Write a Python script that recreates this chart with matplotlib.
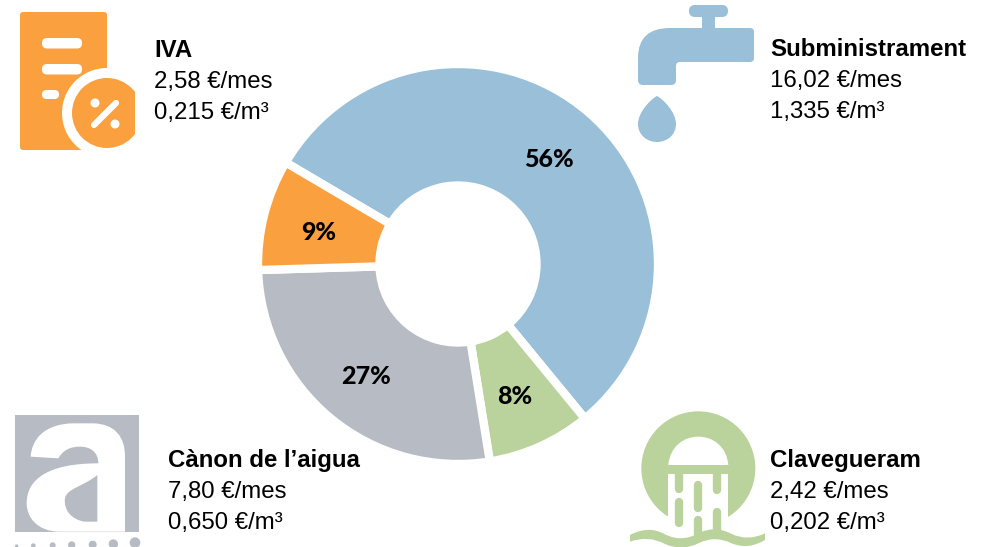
import matplotlib
matplotlib.use("Agg")
import matplotlib.pyplot as plt
from matplotlib.patches import Rectangle, FancyBboxPatch, Circle, PathPatch, Polygon
from matplotlib.path import Path

W, H = 987, 547
categories = ["Subministrament", "Clavegueram", "Cànon de l’aigua", "IVA"]
monthly = [16.02, 2.42, 7.80, 2.58]
monthly_labels = ["16,02 €/mes", "2,42 €/mes", "7,80 €/mes", "2,58 €/mes"]
m3_labels = ["1,335 €/m³", "0,202 €/m³", "0,650 €/m³", "0,215 €/m³"]
colors = ["#9ABFD9", "#BAD29B", "#B6BBC4", "#FBA03E"]
label_x = [770, 770, 168, 154]
label_y = [56, 467, 467, 57]

fig = plt.figure(figsize=(W / 100, H / 100), dpi=100)
ax = fig.add_axes([0, 0, 1, 1])

wedges, _, pct = ax.pie(
    monthly, colors=colors, startangle=149.5, counterclock=False,
    center=(458, H - 264), radius=200, autopct="%.0f%%", pctdistance=0.71,
    wedgeprops=dict(width=121.5, edgecolor="white", linewidth=6),
    textprops=dict(family="Lato", weight="black", fontsize=18, color="black"),
)
for t in pct:
    x0, y0 = t.get_position()
    t.set_position((x0 - 1.5, y0 - 3.5))
ax.set_xlim(0, W)
ax.set_ylim(0, H)
ax.set_aspect("equal")
ax.axis("off")

for name, a, b, x, y in zip(categories, monthly_labels, m3_labels, label_x, label_y):
    ax.text(x, H - y, name, family="Liberation Sans", weight="bold", fontsize=17.3, va="baseline", color="black")
    ax.text(x, H - y - 31, a, family="Liberation Sans", fontsize=17.3, va="baseline", color="black")
    ax.text(x, H - y - 62, b, family="Liberation Sans", fontsize=17.3, va="baseline", color="black")


def P(x, y):
    return (x, H - y)


def rrect(x0, y0, x1, y1, r, c, z=3):
    ax.add_patch(FancyBboxPatch((x0 + r, H - y1 + r), x1 - x0 - 2 * r, y1 - y0 - 2 * r,
                                boxstyle=f"round,pad={r},rounding_size={r}", fc=c, ec="none", zorder=z))


def circ(x, y, r, c, z=3, clip=None):
    p = Circle(P(x, y), r, fc=c, ec="none", zorder=z)
    ax.add_patch(p)
    if clip is not None:
        p.set_clip_path(clip)
    return p


def poly(points, c, z=3):
    ax.add_patch(Polygon([P(*q) for q in points], closed=True, fc=c, ec="none", zorder=z))


def curve(cmds, c, z=3):
    verts, codes = [], []
    for code, pts in cmds:
        for q in pts:
            verts.append(P(*q))
            codes.append(code)
    ax.add_patch(PathPatch(Path(verts, codes), fc=c, ec="none", zorder=z))


M, L, C3, C4, CL = Path.MOVETO, Path.LINETO, Path.CURVE3, Path.CURVE4, Path.CLOSEPOLY

# IVA icon
o = colors[3]
rrect(20, 12, 107, 150, 3, o)
rrect(42, 38, 82, 48.5, 5, "white", 4)
rrect(42, 64, 82, 74.5, 5, "white", 4)
rrect(42, 90, 59, 99, 4.5, "white", 4)
circ(107, 113, 45, "white", 4)
clip = Rectangle((60, 0), 75, H, transform=ax.transData)
circ(107, 113, 35, o, 5, clip)
ax.plot([94, 116], [H - 125, H - 103], color="white", lw=4.5, solid_capstyle="round", zorder=6)
circ(95, 103, 4.5, "white", 6)
circ(115, 124, 4.5, "white", 6)

# Tap icon
b = colors[0]
rrect(689, 5, 728, 17, 6, b)
ax.add_patch(Rectangle((702, H - 30), 13, 14, fc=b, ec="none", zorder=3))
curve([(M, [(670, 28)]), (L, [(750, 28)]), (C3, [(754, 28), (754, 32)]), (L, [(754, 58)]),
       (C3, [(754, 62), (750, 62)]), (L, [(680, 62)]), (C3, [(676, 62), (676, 66)]), (L, [(676, 80)]),
       (C3, [(676, 85), (671, 85)]), (L, [(643, 85)]), (C3, [(638, 85), (638, 80)]), (L, [(638, 58)]),
       (C3, [(638, 28), (670, 28)]), (CL, [(670, 28)])], b)
curve([(M, [(657, 96)]), (C4, [(663, 99), (676, 112), (676, 124)]), (C4, [(676, 135), (667, 142), (657, 142)]),
       (C4, [(647, 142), (638, 135), (638, 124)]), (C4, [(638, 112), (651, 99), (657, 96)]), (CL, [(657, 96)])], b)

# Cànon logo
g = colors[2]
ax.add_patch(Rectangle((15, H - 532), 124, 117, fc=g, ec="none", zorder=3))
Z = lambda x, y: (x / 3, 400 + y / 3)
curve([(M, [Z(92, 170)]), (C4, [Z(95, 120), Z(130, 72), Z(220, 70)]), (L, [Z(280, 70)]),
       (C4, [Z(345, 72), Z(375, 110), Z(375, 170)]), (L, [Z(375, 395)]), (L, [Z(180, 395)]),
       (C4, [Z(110, 395), Z(80, 350), Z(80, 310)]), (C4, [Z(80, 240), Z(140, 190), Z(295, 190)]),
       (C4, [Z(295, 155), Z(270, 140), Z(240, 140)]), (C4, [Z(210, 140), Z(190, 150), Z(175, 175)]),
       (L, [Z(92, 170)]), (CL, [Z(92, 170)])], "white", 4)
curve([(M, [Z(292, 225)]), (L, [Z(292, 365)]), (L, [Z(255, 365)]), (C4, [Z(215, 360), Z(190, 330), Z(195, 295)]),
       (C4, [Z(200, 265), Z(250, 260), Z(292, 225)]), (CL, [Z(292, 225)])], g, 5)
for x, y, r in zip([50, 100, 158, 215, 278, 340, 405], [438, 437, 436, 435, 434, 432, 428], [5, 7, 9, 11, 12, 14, 16]):
    circ(*Z(x, y), r / 3, g)

# Clavegueram icon
v = colors[1]
Y = lambda x, y: (620 + x / 3, 400 + y / 3)
circ(*Y(235, 205), 57, v)
curve([(M, [Y(145, 195)]), (C4, [Y(150, 140), Y(190, 110), Y(235, 110)]), (C4, [Y(280, 110), Y(320, 140), Y(325, 195)]),
       (CL, [Y(145, 195)])], "white", 4)
poly([Y(145, 222), Y(325, 222), Y(325, 420), Y(145, 420)], "white", 4)
for x, y0, y1 in [(177, 222, 268), (177, 305, 370), (235, 255, 325), (235, 360, 405), (292, 222, 270), (292, 335, 405)]:
    ax.plot(*zip(P(*Y(x, y0)), P(*Y(x, y1))), color=v, lw=6, solid_capstyle="round", zorder=5)
poly([Y(60, 395), Y(128, 395), Y(128, 441), Y(60, 441)], "white", 4)
poly([Y(342, 395), Y(410, 395), Y(410, 441), Y(342, 441)], "white", 4)
curve([(M, [Y(30, 405)]), (C3, [Y(85, 375), Y(135, 403)]), (C3, [Y(185, 428), Y(235, 400)]), (C3, [Y(285, 375), Y(335, 402)]),
       (C3, [Y(385, 425), Y(435, 400)]), (L, [Y(435, 420)]), (C3, [Y(385, 450), Y(335, 430)]), (C3, [Y(285, 405), Y(235, 430)]),
       (C3, [Y(185, 455), Y(135, 432)]), (C3, [Y(85, 405), Y(30, 425)]), (CL, [Y(30, 405)])], v, 6)

fig.savefig("out.png", dpi=100)
